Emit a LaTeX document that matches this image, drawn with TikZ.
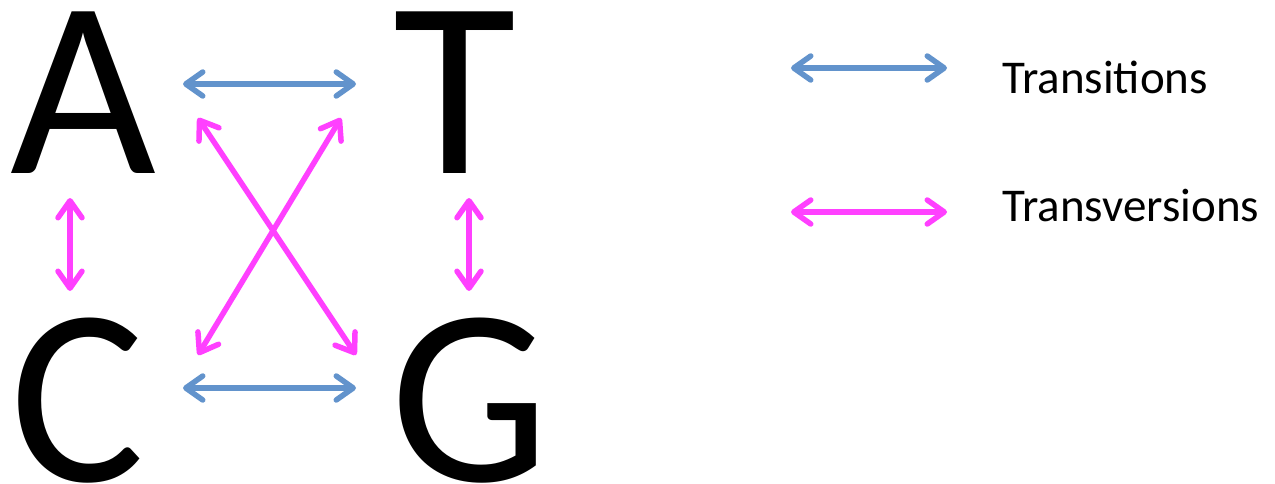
\documentclass[tikz,border=0pt]{standalone}
\usepackage{fontspec}
\setmainfont{Carlito}
\usetikzlibrary{arrows.meta}
\definecolor{TransBlue}{RGB}{98, 147, 204}
\definecolor{TransPink}{RGB}{255, 64, 255}

\begin{document}
\begin{tikzpicture}[x=1pt, y=-1pt,
    base/.style={font=\fontsize{252}{252}\selectfont, inner sep=0pt, anchor=base},
    key/.style={font=\fontsize{47}{54}\selectfont, inner sep=0pt, anchor=base west},
    link/.style={line width=5.5pt, line cap=round,
        {Straight Barb[length=17pt, width=24pt, round]}-{Straight Barb[length=17pt, width=24pt, round]}},
    transit/.style={link, draw=TransBlue},
    transv/.style={link, draw=TransPink}
]
\useasboundingbox (0,0) rectangle (1275,484);
% Bases
\foreach \b/\x/\y in {A/83/174, T/455/174, C/78/481, G/470/481}
    \node[base] (\b) at (\x,\y) {\b};
% Arrow ends
\foreach \n/\x/\y in {atL/183/84, atR/356/84, cgL/183/388, cgR/356/388,
                      acT/70/198, acB/70/291, tgT/469/198, tgB/469/291,
                      agT/198/118, agB/356/355, ctB/198/355, ctT/341/118,
                      keyaL/791/68, keyaR/947/68, keybL/791/212, keybR/947/212}
    \coordinate (\n) at (\x,\y);
% Transitions
\draw[transit] (atL) -- (atR);
\draw[transit] (cgL) -- (cgR);
% Transversions
\draw[transv] (acT) -- (acB);
\draw[transv] (tgT) -- (tgB);
\draw[transv] (agT) -- (agB);
\draw[transv] (ctB) -- (ctT);
% Key
\draw[transit] (keyaL) -- (keyaR);
\node[key] (keya) at (1002,94) {Transitions};
\draw[transv] (keybL) -- (keybR);
\node[key] (keyb) at (1002,222) {Transversions};
\end{tikzpicture}
\end{document}
